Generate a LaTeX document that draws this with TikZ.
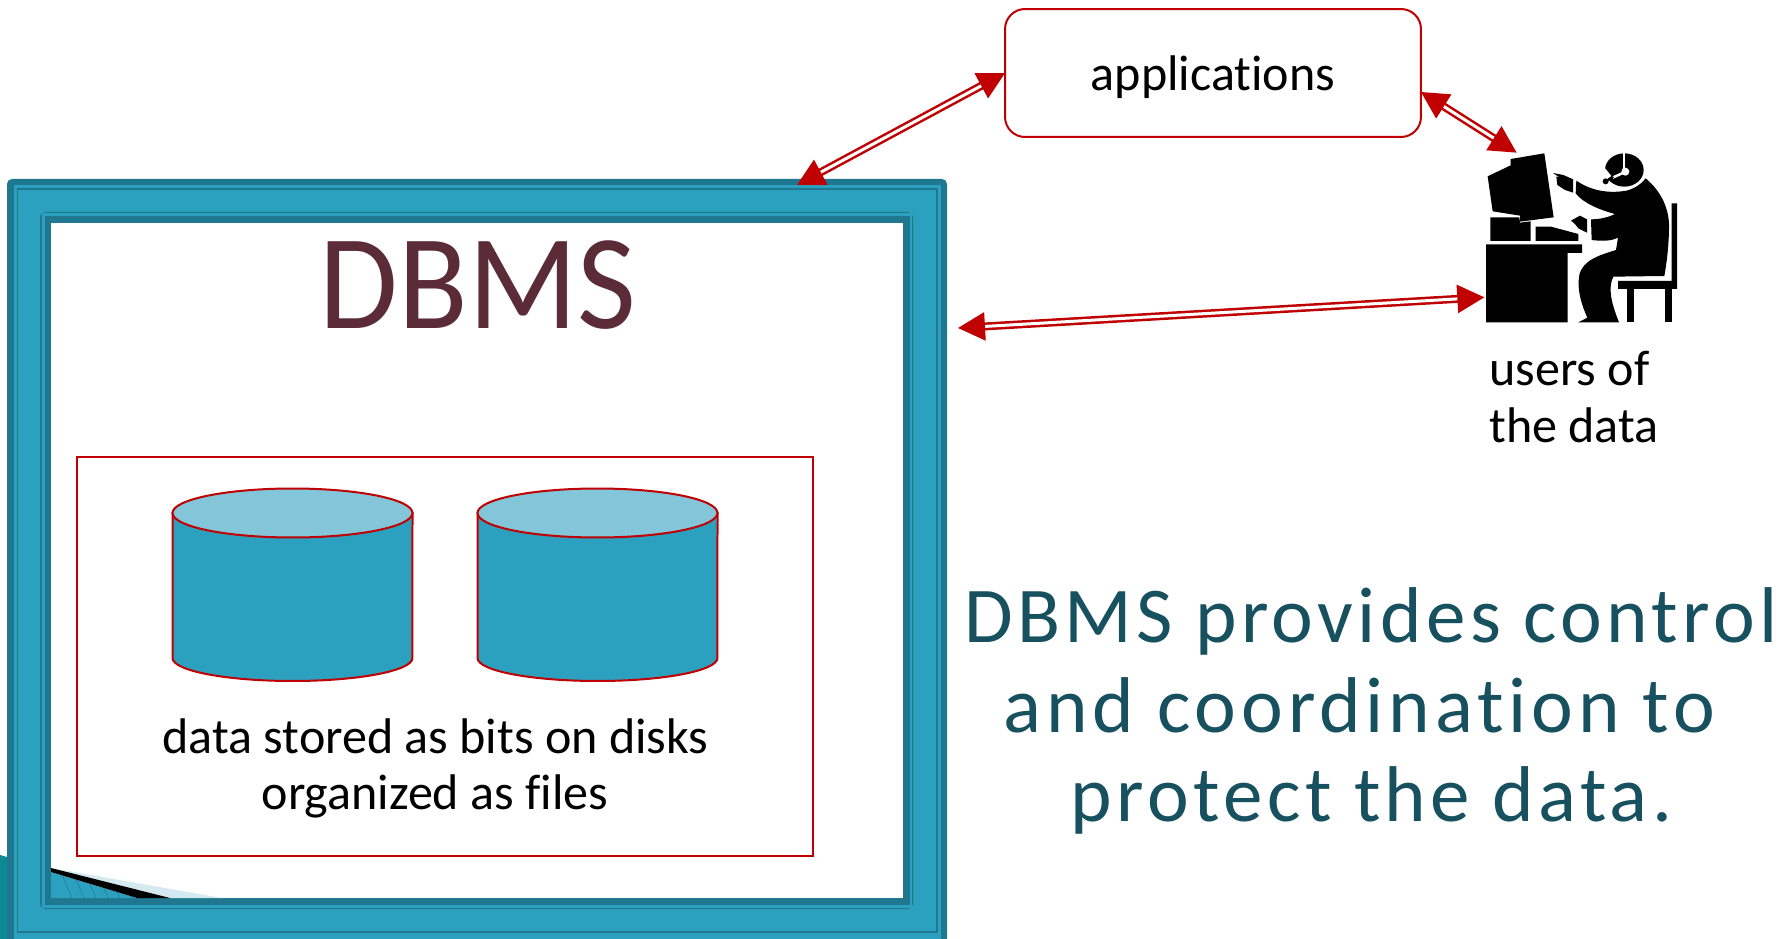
\documentclass[tikz,border=0pt]{standalone}
\usepackage{fontspec}
\setmainfont[Ligatures=NoCommon]{Carlito}
\usetikzlibrary{arrows.meta}
\definecolor{framedark}{HTML}{1F7890}
\definecolor{frameteal}{HTML}{2CA1BF}
\definecolor{disktop}{HTML}{83C5D9}
\definecolor{linered}{HTML}{C00000}
\definecolor{titlewine}{HTML}{5B2C38}
\definecolor{noteteal}{HTML}{17505F}
\definecolor{wedgeblue}{HTML}{D5E9F1}

\begin{document}
\begin{tikzpicture}[
                x=0.02cm, y=-0.02cm,
                lbl/.style={anchor=base, inner sep=0pt, font=\fontsize{28.5}{32}\selectfont},
                note/.style={anchor=base, inner sep=0pt, text=noteteal, font=\fontsize{45}{50}\selectfont\addfontfeature{LetterSpace=5.6}},
                disk/.style={draw=linered, line width=0.04cm},
                dblarrow/.style={draw=linered, line width=0.05cm, double=white, double distance=0.06cm,
                    {Triangle[length=0.54cm, width=0.56cm, fill=linered]}-{Triangle[length=0.54cm, width=0.56cm, fill=linered]}}
            ]
                \path[clip] (0,0) rectangle (1789,939);

                % Frame, drawn as nested bands
                \fill[framedark, rounded corners=0.1cm] (7,179) rectangle (947,960);
                \fill[frameteal] (13.5,185) rectangle (940.5,939);
                \fill[framedark] (16.5,188) rectangle (937.5,933);
                \fill[frameteal] (18,190) rectangle (935.5,931);
                \fill[framedark, rounded corners=0.1cm] (40,212) rectangle (913,909);
                \fill[frameteal] (41.5,213.5) rectangle (911.5,907.5);
                \fill[framedark] (44.5,216) rectangle (910,905);
                \fill[white] (51,223) rectangle (903,898);

                % Corner of the slide behind the frame
                \fill[wedgeblue] (51,868) -- (222,898) -- (170,898) -- cycle;
                \fill[frameteal] (51,872) -- (137,898) -- (51,898) -- cycle;
                \begin{scope}
                    \clip (51,872) -- (137,898) -- (51,898) -- cycle;
                    \foreach \sx in {60,72,84,96,108,120,132}
                        \draw[framedark, line width=0.01cm] (\sx,870) -- (\sx+12,898);
                \end{scope}
                \fill[black] (51,868) -- (170,898) -- (137,898) -- (51,872) -- cycle;
                \fill[teal!70!frameteal] (0,855) -- (7,857) -- (7,939) -- (0,939) -- cycle;

                % Title
                \node[anchor=base, inner sep=0pt, text=titlewine, font=\fontsize{77}{80}\selectfont\addfontfeature{FakeStretch=0.945}] (title) at (478,329) {DBMS};

                % Storage box with the two disks
                \node[draw=linered, line width=0.04cm, minimum width=14.74cm, minimum height=8cm, inner sep=0pt, outer sep=0pt] (store) at (445,656.5) {};
                \foreach \cx in {292.5,597.5} {
                    \path[disk, fill=frameteal] (\cx-120,513) -- (\cx-120,658) arc[start angle=180, end angle=360, x radius=2.4cm, y radius=0.46cm] -- (\cx+120,513) -- cycle;
                    \path[disk, fill=disktop] (\cx,513) ellipse[x radius=2.4cm, y radius=0.49cm];
                }
                \node[lbl] (stored) at (435.5,753) {data stored as bits on disks};
                \node[lbl] (files) at (435,809.5) {organized as files};

                % Applications box
                \node[draw=linered, line width=0.04cm, rounded corners=0.4cm, minimum width=8.32cm, minimum height=2.56cm, inner sep=0pt, outer sep=0pt] (apps) at (1213,73) {};
                \node[lbl] (appstext) at (1213,90.5) {applications};

                % Person at the desk, in units of a third of a pixel
                \begin{scope}[shift={(1440,60)}, x=0.02cm/3, y=-0.02cm/3]
                    \fill (143,349) -- (212,316) -- (212,297) -- (313,280) -- (341,472) -- (240,485) -- (240,467) -- (158,454) -- cycle;
                    \fill (151,472) -- (238,472) -- (240,488) -- (272,484) -- (272,543) -- (151,543) -- cycle;
                    \fill (287,500) -- (333,500) -- (415,522) -- (415,543) -- (287,543) -- cycle;
                    \fill (138,553) -- (426,553) -- (426,579) -- (383,579) -- (383,787) -- (138,787) -- cycle;
                    \fill (339,339) -- (370,345) -- (399,358) -- (399,398) -- (375,390) -- (352,375) -- (349,350) -- (358,352) -- cycle;
                    \fill (393,482) -- (420,467) -- (441,478) -- (441,518) -- (415,505) -- (405,492) -- cycle;
                    \fill (409,362) .. controls (450,390) and (500,402) .. (560,392) .. controls (585,385) and (605,372) .. (617,355)
                        .. controls (665,395) and (690,450) .. (687,510) .. controls (686,560) and (680,610) .. (673,648) -- (520,650)
                        .. controls (505,680) and (510,720) .. (537,787) -- (415,787) -- (442,773) .. controls (425,735) and (410,690) .. (418,645)
                        .. controls (428,600) and (480,585) .. (528,570) -- (534,533) .. controls (510,545) and (480,543) .. (455,540) -- (453,478)
                        .. controls (480,478) and (505,472) .. (525,462) .. controls (480,450) and (430,430) .. (407,400) -- cycle;
                    % chair
                    \fill (695,430) -- (711,430) -- (711,687) -- (534,687) -- (534,663) -- (695,663) -- cycle;
                    \fill (560,687) rectangle (581,787);
                    \fill (676,687) rectangle (697,787);
                    % head and headset
                    \begin{scope}
                        \clip (480,280) rectangle (620,390);
                        \fill (553,330) ellipse (58 and 50);
                    \end{scope}
                    \fill[white] (480,322) -- (493,322) -- (514,348) -- (480,372) -- cycle;
                    \draw[white, line width=0.04cm] (553,280) -- (553,335);
                    \fill[white] (556,335) circle (12);
                    \draw[white, line width=0.05cm] (553,337) -- (518,353);
                    \draw[line width=0.04cm] (497,364) -- (520,351);
                    \fill (497,364) circle (9);
                    \coordinate (userhead) at (230,278);
                    \coordinate (userdesk) at (133,712);
                \end{scope}
                \node[lbl, anchor=base west] (users1) at (1489,385) {users of};
                \node[lbl, anchor=base west] (users2) at (1489,442) {the data};

                % Named arrow ends on the frame and the applications box
                \coordinate (frametop) at (797,185);
                \coordinate (frameright) at (958,328);
                \coordinate (appsright) at (1421,92);

                % Arrows
                \path[dblarrow] (apps.west) -- (frametop);
                \path[dblarrow] (appsright) -- (userhead);
                \path[dblarrow] (frameright) -- (userdesk);

                % Note on the right
                \node[note] (note1) at (1371,642) {DBMS provides control};
                \node[note] (note2) at (1359.5,732) {\addfontfeature{LetterSpace=6.2}and coordination to};
                \node[note] (note3) at (1371.5,821) {protect the data.};
            \end{tikzpicture}
\end{document}
